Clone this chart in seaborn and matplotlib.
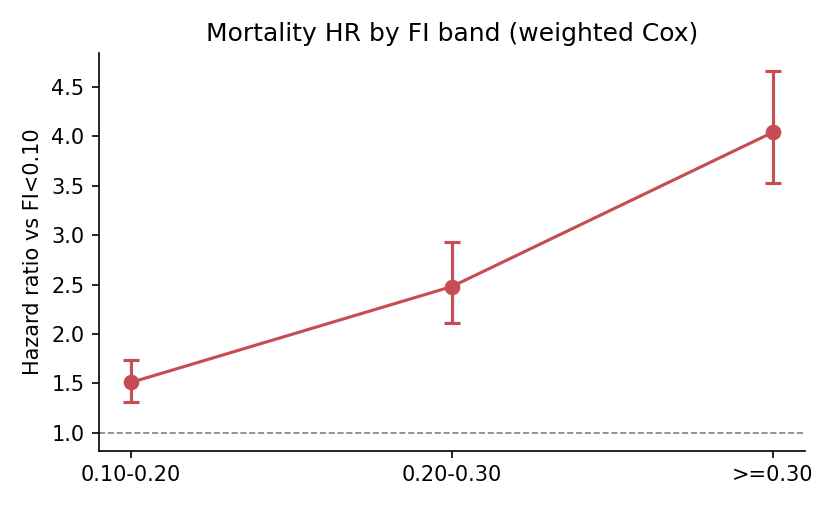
import numpy as np
import pandas as pd
import matplotlib
matplotlib.use("Agg")
import matplotlib.pyplot as plt
import seaborn as sns

bands = ["0.10-0.20", "0.20-0.30", ">=0.30"]
hr = [1.51, 2.48, 4.04]
ci_low = [1.31, 2.11, 3.53]
ci_high = [1.74, 2.93, 4.66]

df = pd.DataFrame({"band": bands, "hr": hr, "lo": ci_low, "hi": ci_high})

plt.rcParams["font.family"] = ["DejaVu Sans"]
color = sns.color_palette("deep")[3]

fig, ax = plt.subplots(figsize=(5.6, 3.4), dpi=150)
fig.subplots_adjust(left=0.118, right=0.958, bottom=0.116, top=0.896)

yerr = np.array([df["hr"] - df["lo"], df["hi"] - df["hr"]])
ax.errorbar(df["band"], df["hr"], yerr=yerr, fmt="-o", color=color,
            lw=1.5, markersize=6.5, capsize=4, capthick=1.5, elinewidth=1.5)
ax.axhline(1.0, color="gray", ls="--", lw=0.8)

ax.set_title("Mortality HR by FI band (weighted Cox)")
ax.set_ylabel("Hazard ratio vs FI<0.10")
ax.set_xlabel("")
sns.despine(ax=ax)

fig.savefig("out.png", dpi=150)
